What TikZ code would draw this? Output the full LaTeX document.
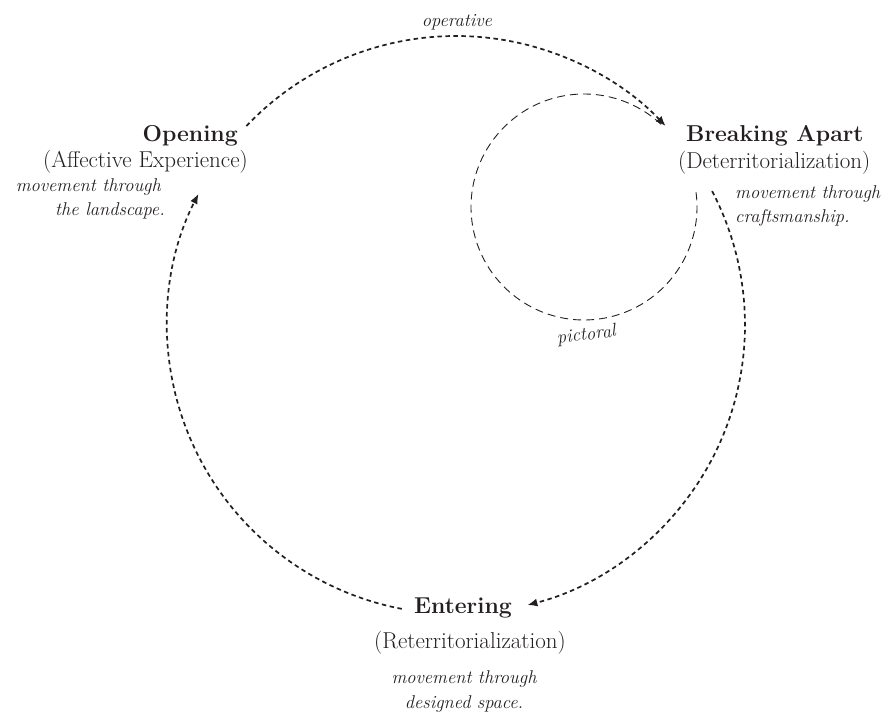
\documentclass[tikz,border=0pt]{standalone}
\usepackage{fontspec}
\usetikzlibrary{arrows.meta}
\definecolor{ink}{HTML}{231F20}
\tikzset{
  bigarrow/.style={draw=ink, line width=1.7pt, dash pattern=on 4.5pt off 3.5pt, -{Latex[length=10pt,width=8pt]}},
  smallloop/.style={draw=ink, line width=0.9pt, dash pattern=on 8pt off 5pt},
  titletext/.style={font=\fontsize{23}{27}\selectfont\bfseries, text=ink, inner sep=0pt},
  subtext/.style={font=\fontsize{23}{27}\selectfont, text=ink, inner sep=0pt},
  notetext/.style={font=\fontsize{18.5}{24}\selectfont\itshape, text=ink, inner sep=0pt},
}
\begin{document}
\begin{tikzpicture}[x=1pt,y=1pt]
\useasboundingbox (0,0) rectangle (896,721);
% circle centres
\coordinate (C) at (456,396);
\coordinate (S) at (584,514);
% arc end points
\coordinate (opS) at ([shift={(136.5:289)}]C);
\coordinate (brS) at ([shift={(27.6:289)}]C);
\coordinate (enS) at ([shift={(259.2:289)}]C);
\coordinate (piS) at ([shift={(7.4:113)}]S);
% texts
\node[notetext, anchor=base] (operative) at (457,694) {operative};
\node[titletext, anchor=base east] (opening) at (238,579) {Opening};
\node[subtext, anchor=base east] (openingsub) at (248,553) {(Affective Experience)};
\node[notetext, anchor=base east] (openingn1) at (161,529) {movement through};
\node[notetext, anchor=base east] (openingn2) at (165,505) {the landscape.};
\node[titletext, anchor=base west] (breaking) at (686,579) {Breaking Apart};
\node[subtext, anchor=base west] (breakingsub) at (678,552) {(Deterritorialization)};
\node[notetext, anchor=base west] (breakingn1) at (735,522) {movement through};
\node[notetext, anchor=base west] (breakingn2) at (735,498) {craftsmanship.};
\node[titletext, anchor=base] (entering) at (463,108) {Entering};
\node[subtext, anchor=base] (enteringsub) at (470,73) {(Reterritorialization)};
\node[notetext, anchor=base] (enteringn1) at (464,38) {movement through};
\node[notetext, anchor=base] (enteringn2) at (464,13) {designed space.};
\node[notetext, anchor=base, rotate=7] (pictoral) at (587,381) {pictoral};
% connectors
\draw[smallloop] (piS) arc[start angle=7.4, end angle=-313, radius=113pt];
\draw[bigarrow] (opS) arc[start angle=136.5, end angle=43.5, radius=289pt];
\draw[bigarrow] (brS) arc[start angle=27.6, end angle=-75.7, radius=289pt];
\draw[bigarrow] (enS) arc[start angle=259.2, end angle=153, radius=289pt];
\end{tikzpicture}
\end{document}
